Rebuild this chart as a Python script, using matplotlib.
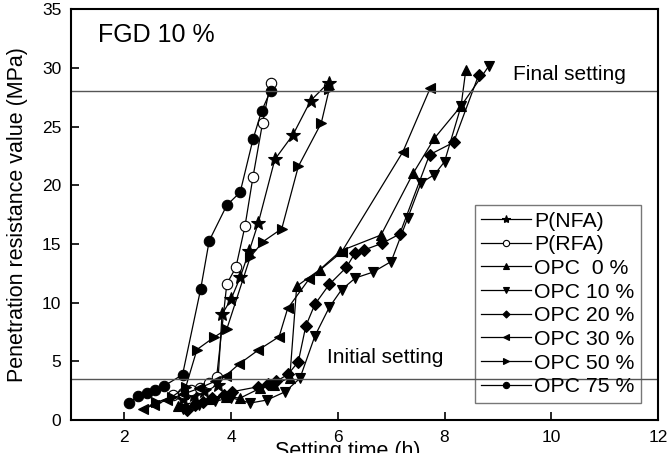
import numpy as np
import matplotlib
matplotlib.use('Agg')
import matplotlib.pyplot as plt

plt.rcParams['font.family'] = ['Liberation Sans', 'DejaVu Sans']

#### data (setting time in h, resistance in MPa)
labels = ['P(NFA)', 'P(RFA)', 'OPC  0 %', 'OPC 10 %', 'OPC 20 %',
          'OPC 30 %', 'OPC 50 %', 'OPC 75 %']
markers = ['*', 'o', '^', 'v', 'D', '<', '>', 'o']
filled = [True, False, True, True, True, True, True, True]

nfa_t = [3.1, 3.3, 3.5, 3.75, 3.83, 4.0, 4.17, 4.34, 4.51, 4.82, 5.16, 5.49, 5.83]
nfa_p = [1.8, 2.1, 2.5, 3.0, 9.0, 10.3, 12.15, 14.4, 16.8, 22.2, 24.3, 27.2, 28.75]

rfa_t = [2.92, 3.09, 3.25, 3.42, 3.59, 3.73, 3.92, 4.09, 4.26, 4.41, 4.59, 4.74]
rfa_p = [2.1, 2.33, 2.56, 2.7, 3.12, 3.69, 11.6, 13.0, 16.5, 20.7, 25.3, 28.7]

opc0_t = [3.0, 3.3, 3.6, 3.9, 4.17, 4.54, 4.8, 5.1, 5.23, 5.66, 6.05, 6.81,
          7.41, 7.81, 8.31, 8.4]
opc0_p = [1.2, 1.5, 1.8, 2.0, 1.87, 2.7, 3.0, 3.6, 11.4, 12.8, 14.4, 15.76,
          21.0, 24.0, 26.75, 29.85]

opc10_t = [3.1, 3.4, 3.7, 4.0, 4.36, 4.67, 5.01, 5.29, 5.57, 5.84, 6.07, 6.33,
           6.66, 7.0, 7.31, 7.56, 7.81, 8.0, 8.31, 8.83]
opc10_p = [0.9, 1.3, 1.6, 1.9, 1.45, 1.7, 2.4, 3.55, 7.15, 9.6, 11.1, 12.1,
           12.6, 13.5, 17.2, 20.2, 20.9, 22.0, 26.75, 30.15]

opc20_t = [3.17, 3.33, 3.48, 3.64, 3.86, 4.01, 4.51, 4.7, 4.85, 5.07, 5.26, 5.4,
           5.57, 5.84, 6.16, 6.32, 6.5, 6.83, 7.16, 7.72, 8.17, 8.64]
opc20_p = [0.85, 1.28, 1.56, 1.85, 2.1, 2.4, 2.84, 3.1, 3.3, 3.9, 4.97, 8.0,
           9.85, 11.55, 13.0, 14.2, 14.5, 15.05, 15.84, 22.6, 23.65, 29.4]

opc30_t = [2.35, 2.55, 2.8, 3.1, 3.4, 3.7, 3.9, 4.15, 4.51, 4.9, 5.06, 5.46,
           6.07, 7.22, 7.73]
opc30_p = [0.9, 1.3, 1.7, 2.2, 2.7, 3.3, 3.78, 4.77, 5.96, 7.1, 9.5, 12.0,
           14.3, 22.85, 28.25]

opc50_t = [2.6, 2.9, 3.15, 3.36, 3.68, 3.92, 4.36, 4.6, 4.95, 5.26, 5.69, 5.84]
opc50_p = [1.5, 2.0, 2.8, 6.0, 7.05, 7.75, 13.9, 15.2, 16.3, 21.6, 25.3, 28.2]

opc75_t = [2.09, 2.26, 2.42, 2.57, 2.75, 3.09, 3.43, 3.59, 3.92, 4.17, 4.41,
           4.57, 4.74]
opc75_p = [1.45, 2.07, 2.33, 2.56, 2.92, 3.86, 11.16, 15.27, 18.3, 19.4, 23.9,
           26.3, 28.05]

times = [nfa_t, rfa_t, opc0_t, opc10_t, opc20_t, opc30_t, opc50_t, opc75_t]
values = [nfa_p, rfa_p, opc0_p, opc10_p, opc20_p, opc30_p, opc50_p, opc75_p]

initial_setting = 3.5
final_setting = 28.0

fig = plt.figure(figsize=(6.70, 4.53), dpi=100)
ax = fig.add_axes([0.106, 0.0728, 0.876, 0.907])

for t, p, lab, m, f in zip(times, values, labels, markers, filled):
    size = 10 if m == '*' else (6 if m == 'D' else 7.5)
    ax.plot(t, p, color='black', lw=0.9, marker=m, ms=size,
            mfc='black' if f else 'white', mec='black', mew=0.8, label=lab)

ax.axhline(final_setting, color='#555555', lw=1.0)
ax.axhline(initial_setting, color='#555555', lw=1.0)

ax.text(1.5, 32.8, 'FGD 10 %', fontsize=18, va='center')
ax.text(9.28, 29.4, 'Final setting', fontsize=15, va='center')
ax.text(5.8, 5.35, 'Initial setting', fontsize=15, va='center')

ax.set_xlim(1, 12)
ax.set_ylim(0, 35)
ax.set_xticks([2, 4, 6, 8, 10, 12])
ax.set_yticks(np.arange(0, 36, 5))
ax.tick_params(direction='in', length=6, width=1.2, labelsize=12.5, pad=7)
for s in ax.spines.values():
    s.set_linewidth(1.5)

ax.set_xlabel('Setting time (h)', fontsize=15.5)
ax.xaxis.set_label_coords(0.471, -0.052)
ax.set_ylabel('Penetration resistance value (MPa)', fontsize=15.5)
ax.yaxis.set_label_coords(-0.073, 0.5)

leg = ax.legend(loc='upper left', bbox_to_anchor=(0.688, 0.523), fontsize=15.3,
                frameon=True, fancybox=False, edgecolor='#555555',
                facecolor='none', markerscale=0.6, handlelength=2.35,
                handletextpad=0.15, labelspacing=0.22, borderpad=0.3,
                borderaxespad=0)
leg.get_frame().set_linewidth(1.0)

fig.savefig('out.png', dpi=100)
